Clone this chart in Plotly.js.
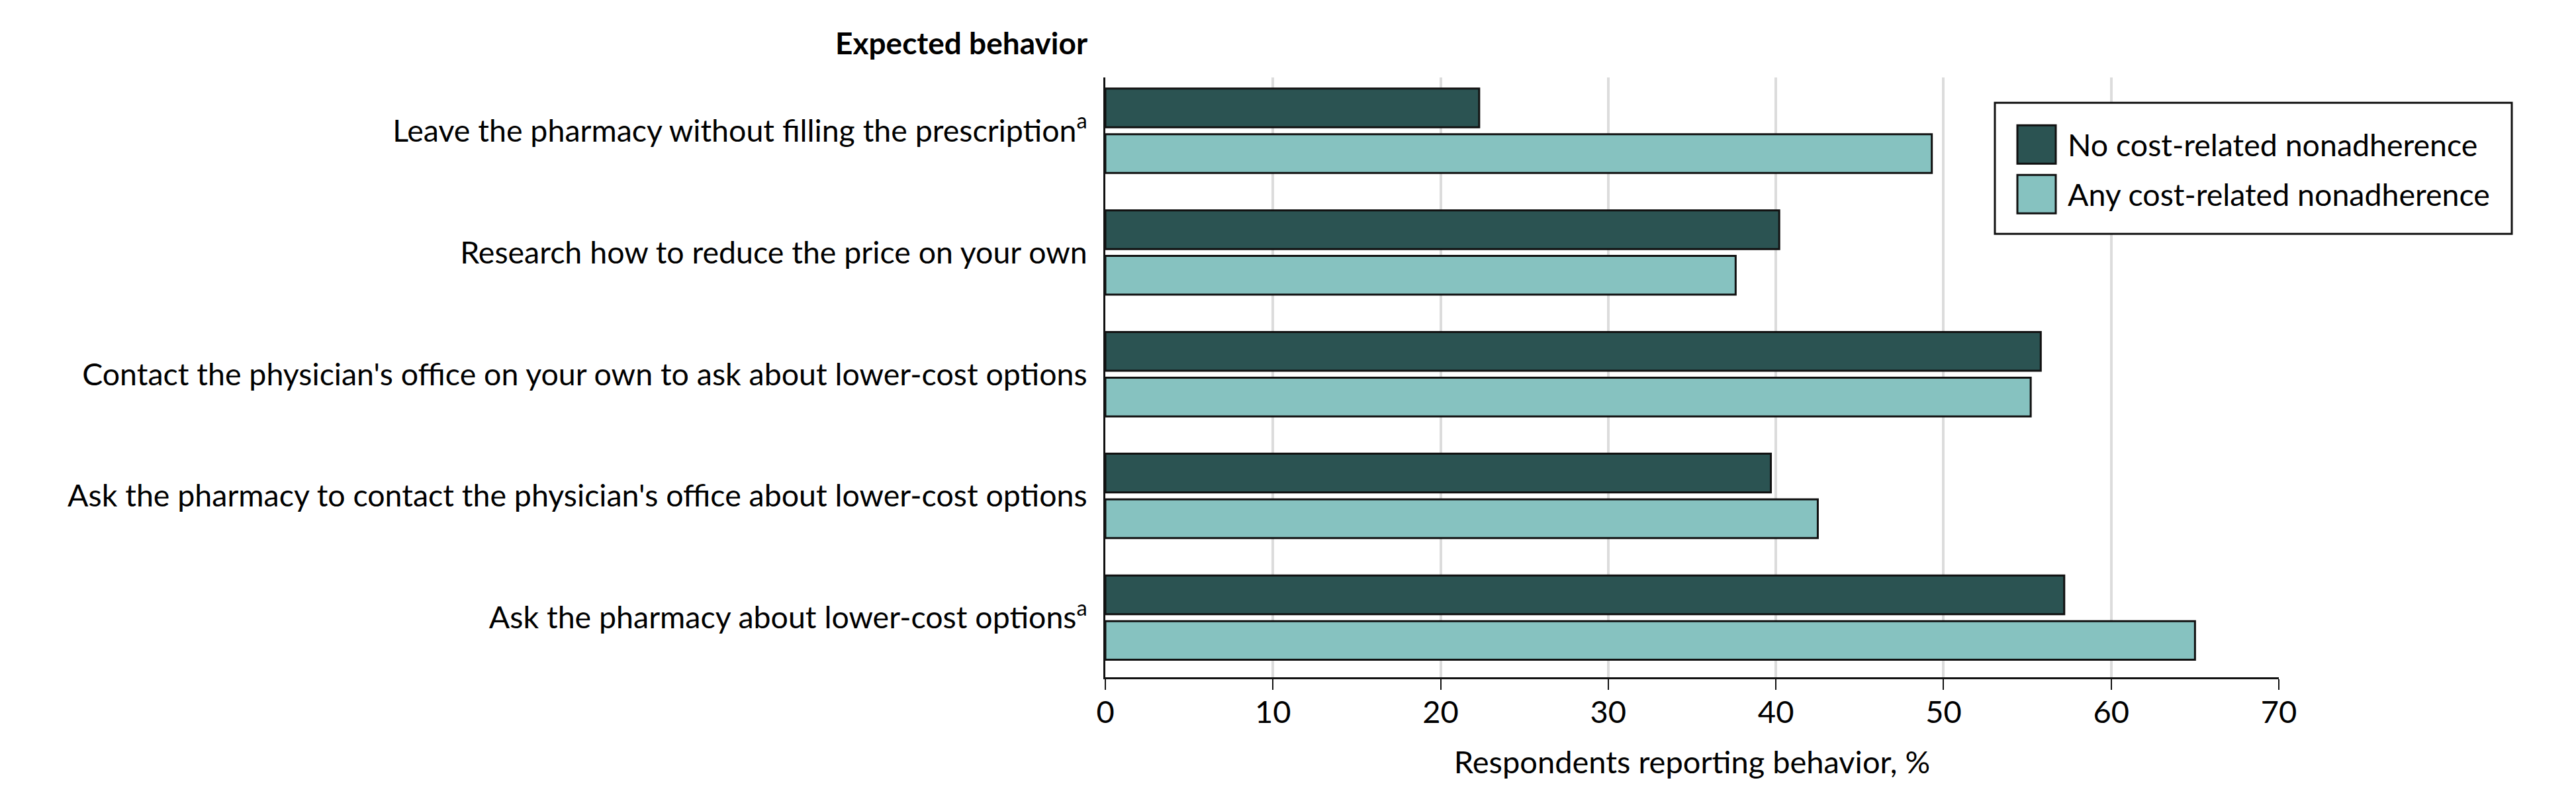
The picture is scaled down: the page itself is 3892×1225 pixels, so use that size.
<!DOCTYPE html>
<html>
<head>
<meta charset="utf-8">
<script src="https://cdn.plot.ly/plotly-3.0.1.min.js"></script>
<style>html,body{margin:0;padding:0;background:#fff;}#chart{width:3892px;height:1225px;}</style>
</head>
<body>
<div id="chart"></div>
<script>
// ---- data ----
const categories = [
  "Leave the pharmacy without filling the prescription<sup>a</sup>",
  "Research how to reduce the price on your own",
  "Contact the physician's office on your own to ask about lower-cost options",
  "Ask the pharmacy to contact the physician's office about lower-cost options",
  "Ask the pharmacy about lower-cost options<sup>a</sup>"
];
const seriesNames = ["No cost-related nonadherence", "Any cost-related nonadherence"];
const noCRN  = [22.3, 40.2, 55.8, 39.7, 57.2];
const anyCRN = [49.3, 37.6, 55.2, 42.5, 65.0];
const xTickVals = [0, 10, 20, 30, 40, 50, 60, 70];
const xTickText = ["0", "10", "20", "30", "40", "50", "60", "70"];
const yAxisTitle = "Expected behavior";
const xAxisTitle = "Respondents reporting behavior, %";

// ---- style ----
const W = 3892, H = 1225;
const L = 1670, R = 3443, T = 116.7, B = 1023;
const FONT = "Lato, 'Open Sans', sans-serif";
const colors = ["#2b5352", "#86c2c0"];
const px2x = p => (p - L) / (R - L);
const px2y = p => (B - p) / (B - T);

const barW = 0.318;
const traces = [
  {type: "bar", orientation: "h", name: seriesNames[0], y: categories, x: noCRN,
   width: barW, offset: -0.3465,
   marker: {color: colors[0], line: {color: "#111", width: 3}}, showlegend: false, hoverinfo: "x+y"},
  {type: "bar", orientation: "h", name: seriesNames[1], y: categories, x: anyCRN,
   width: barW, offset: 0.0285,
   marker: {color: colors[1], line: {color: "#111", width: 3}}, showlegend: false, hoverinfo: "x+y"}
];

// custom legend (large swatches)
const lgBox = {x0: 3014, x1: 3795, y0: 155, y1: 353};
const sw = [{y0: 189, y1: 247}, {y0: 264, y1: 322}];
const shapes = [
  {type: "rect", xref: "paper", yref: "paper",
   x0: px2x(lgBox.x0), x1: px2x(lgBox.x1), y0: px2y(lgBox.y1), y1: px2y(lgBox.y0),
   line: {color: "#111", width: 3}, fillcolor: "#fff", layer: "above"}
];
const annotations = [];
seriesNames.forEach((n, i) => {
  shapes.push({type: "rect", xref: "paper", yref: "paper",
    x0: px2x(3048), x1: px2x(3106), y0: px2y(sw[i].y1), y1: px2y(sw[i].y0),
    line: {color: "#111", width: 3}, fillcolor: colors[i], layer: "above"});
  annotations.push({xref: "paper", yref: "paper", x: px2x(3122), y: px2y((sw[i].y0 + sw[i].y1) / 2),
    xanchor: "left", yanchor: "middle", showarrow: false, text: n,
    font: {family: FONT, size: 46.5, color: "#000"}});
});
annotations.push({xref: "paper", yref: "paper", x: px2x(1645), y: px2y(64),
  xanchor: "right", yanchor: "middle", showarrow: false, text: "<b>" + yAxisTitle + "</b>",
  font: {family: FONT, size: 46, color: "#000"}});

const layout = {
  width: W, height: H,
  margin: {l: L, r: W - R, t: T, b: H - B, pad: 0},
  paper_bgcolor: "#fff", plot_bgcolor: "#fff",
  barmode: "overlay",
  font: {family: FONT, size: 47, color: "#000"},
  xaxis: {
    range: [0, 70], tickvals: xTickVals, ticktext: xTickText,
    showgrid: true, gridcolor: "#dcdcdc", gridwidth: 4,
    showline: true, linecolor: "#111", linewidth: 3,
    ticks: "outside", ticklen: 16, tickwidth: 2, tickcolor: "#111",
    ticklabelstandoff: -6,
    zeroline: false, fixedrange: true,
    tickfont: {family: FONT, size: 47, color: "#000"},
    title: {text: xAxisTitle, font: {family: FONT, size: 47, color: "#000"}, standoff: 34}
  },
  yaxis: {
    type: "category", range: [4.49, -0.438],
    showgrid: false, zeroline: false,
    showline: true, linecolor: "#111", linewidth: 3,
    ticks: "", ticklabelstandoff: 15, fixedrange: true,
    tickfont: {family: FONT, size: 46.5, color: "#000"}
  },
  shapes: shapes,
  annotations: annotations,
  showlegend: false
};

Plotly.newPlot("chart", traces, layout, {displayModeBar: false, staticPlot: true});
</script>
</body>
</html>
